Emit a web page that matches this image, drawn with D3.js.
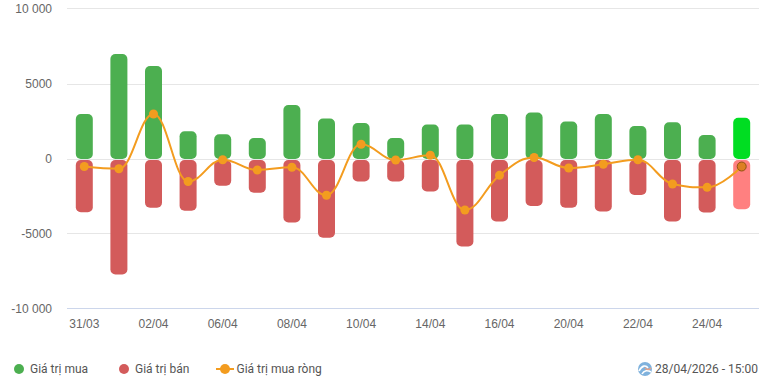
<!DOCTYPE html>
<html>
<head>
<meta charset="utf-8">
<script src="https://cdn.jsdelivr.net/npm/d3@7"></script>
<style>
  html, body { margin: 0; padding: 0; background: #fff; }
  svg { display: block; font-family: Roboto, sans-serif; }
  .tick text { font-size: 12px; fill: #666; }
</style>
</head>
<body>
<svg id="chart"></svg>
<script>
const days = ['31/03', '01/04', '02/04', '03/04', '06/04', '07/04', '08/04', '09/04', '10/04', '13/04',
  '14/04', '15/04', '16/04', '17/04', '20/04', '21/04', '22/04', '23/04', '24/04', '28/04'];
const buyValues = [3000, 7000, 6200, 1850, 1650, 1400, 3600, 2700, 2400, 1400,
  2300, 2300, 3000, 3100, 2500, 3000, 2200, 2450, 1600, 2750];
const sellValues = [-3550, -7700, -3250, -3450, -1780, -2250, -4230, -5250, -1500, -1500,
  -2170, -5830, -4170, -3130, -3250, -3500, -2400, -4170, -3570, -3350];
const netValues = [-500, -650, 3000, -1500, -50, -730, -550, -2420, 980, -70,
  250, -3400, -1090, 100, -600, -350, -50, -1670, -1890, -500];
const yTicks = [10000, 5000, 0, -5000, -10000];
const legendNames = ['Giá trị mua', 'Giá trị bán', 'Giá trị mua ròng'];
const timestamp = '28/04/2026 - 15:00';

const width = 772;
const height = 382;
const margin = { top: 9, right: 13, bottom: 73, left: 67 };

const green = '#4caf50';
const red = '#d35b5b';
const orange = '#f39c1f';
const hoverIndex = days.length - 1; // last day is drawn in the hovered state

const svg = d3.select('svg#chart')
  .attr('width', width)
  .attr('height', height);

const x = d3.scaleBand()
  .domain(days)
  .range([margin.left, width - margin.right]);

const y = d3.scaleLinear()
  .domain([-10000, 10000])
  .range([height - margin.bottom, margin.top]);

const groupThousands = (d) => {
  if (Math.abs(d) < 10000) return String(d);
  return `${d < 0 ? '-' : ''}${Math.abs(d) / 1000} 000`;
};

// same smoothing as a highcharts spline: control points stay between the neighbours
const curveSpline = (context) => {
  const pts = [];
  return {
    lineStart() { pts.length = 0; },
    lineEnd() {
      const smoothing = 1.5;
      const denom = smoothing + 1;
      let prevRight = pts[0];
      pts.forEach((p, i) => {
        if (i === 0) {
          context.moveTo(p[0], p[1]);
          return;
        }
        const last = pts[i - 1];
        const next = pts[i + 1];
        let left = p;
        let right = p;
        if (next) {
          const lx = (smoothing * p[0] + last[0]) / denom;
          const rx = (smoothing * p[0] + next[0]) / denom;
          let ly = (smoothing * p[1] + last[1]) / denom;
          let ry = (smoothing * p[1] + next[1]) / denom;
          const correction = ((ry - ly) * (rx - p[0])) / (rx - lx) + p[1] - ry;
          ly += correction;
          ry += correction;
          if (ly > last[1] && ly > p[1]) {
            ly = Math.max(last[1], p[1]);
            ry = 2 * p[1] - ly;
          } else if (ly < last[1] && ly < p[1]) {
            ly = Math.min(last[1], p[1]);
            ry = 2 * p[1] - ly;
          }
          if (ry > next[1] && ry > p[1]) {
            ry = Math.max(next[1], p[1]);
            ly = 2 * p[1] - ry;
          } else if (ry < next[1] && ry < p[1]) {
            ry = Math.min(next[1], p[1]);
            ly = 2 * p[1] - ry;
          }
          left = [lx, ly];
          right = [rx, ry];
        }
        context.bezierCurveTo(prevRight[0], prevRight[1], left[0], left[1], p[0], p[1]);
        prevRight = right;
      });
    },
    point(px, py) { pts.push([px, py]); },
  };
};

// y axis with the gridlines
svg.append('g')
  .attr('transform', `translate(${margin.left},0)`)
  .call(d3.axisLeft(y)
    .offset(0)
    .tickValues(yTicks)
    .tickSize(-(width - margin.left - margin.right))
    .tickPadding(15)
    .tickFormat(groupThousands))
  .call((g) => g.select('.domain').remove())
  .call((g) => g.selectAll('.tick line')
    .attr('y1', (d) => (d >= 0 && d < 10000 ? 0.5 : -0.5)) // snap to the pixel rows
    .attr('y2', (d) => (d >= 0 && d < 10000 ? 0.5 : -0.5))
    .attr('stroke', (d) => (d === -10000 ? '#ccd6eb' : '#e6e6e6')));

// x axis, every other label
svg.append('g')
  .attr('transform', `translate(0,${height - margin.bottom})`)
  .call(d3.axisBottom(x)
    .offset(0)
    .tickValues(days.filter((d, i) => i % 2 === 0))
    .tickSize(0)
    .tickPadding(10))
  .call((g) => g.select('.domain').remove());

const barWidth = 17;
const barX = (d) => x(d) + (x.bandwidth() - barWidth) / 2;

svg.append('g')
  .selectAll('rect')
  .data(days)
  .join('rect')
  .attr('x', barX)
  .attr('y', (d, i) => y(buyValues[i]))
  .attr('width', barWidth)
  .attr('height', (d, i) => y(0) - y(buyValues[i]))
  .attr('rx', 5)
  .attr('fill', (d, i) => (i === hoverIndex ? '#00dd22' : green));

svg.append('g')
  .selectAll('rect')
  .data(days)
  .join('rect')
  .attr('x', barX)
  .attr('y', y(0) + 1)
  .attr('width', barWidth)
  .attr('height', (d, i) => y(sellValues[i]) - y(0) - 1)
  .attr('rx', 5)
  .attr('fill', (d, i) => (i === hoverIndex ? '#ff8080' : red));

// net value line
const line = d3.line()
  .x((d, i) => x(days[i]) + x.bandwidth() / 2)
  .y((d) => y(d))
  .curve(curveSpline);

svg.append('path')
  .attr('d', line(netValues))
  .attr('fill', 'none')
  .attr('stroke', orange)
  .attr('stroke-width', 2)
  .attr('stroke-linejoin', 'round')
  .attr('stroke-linecap', 'round');

svg.append('g')
  .selectAll('circle')
  .data(netValues)
  .join('circle')
  .attr('cx', (d, i) => x(days[i]) + x.bandwidth() / 2)
  .attr('cy', (d) => y(d))
  .attr('r', 4.5)
  .attr('fill', (d, i) => (i === hoverIndex ? '#dd7f22' : orange))
  .attr('stroke', (d, i) => (i === hoverIndex ? '#8f5212' : 'none'))
  .attr('stroke-width', 1);

// legend
const legendY = 369;
const legend = svg.append('g')
  .attr('font-size', 12)
  .attr('fill', '#555');

legend.append('circle').attr('cx', 19).attr('cy', legendY).attr('r', 5).attr('fill', green);
legend.append('text').attr('x', 30).attr('y', legendY + 4).text(legendNames[0]);

legend.append('circle').attr('cx', 124).attr('cy', legendY).attr('r', 5).attr('fill', red);
legend.append('text').attr('x', 135).attr('y', legendY + 4).text(legendNames[1]);

legend.append('line')
  .attr('x1', 216).attr('x2', 234)
  .attr('y1', legendY).attr('y2', legendY)
  .attr('stroke', orange)
  .attr('stroke-width', 2);
legend.append('circle').attr('cx', 225).attr('cy', legendY).attr('r', 5).attr('fill', orange);
legend.append('text').attr('x', 236.5).attr('y', legendY + 4).text(legendNames[2]);

// update time with the small logo
const logo = svg.append('g').attr('transform', `translate(645,${legendY})`);
logo.append('circle').attr('r', 7).attr('fill', '#7fb2dd');
logo.append('path')
  .attr('d', 'M-6,2 C-3,-4 1,-4 3,-1 M-3,5 C-1,1 3,1 6,3')
  .attr('fill', 'none')
  .attr('stroke', '#fff')
  .attr('stroke-width', 1.6);
logo.append('path')
  .attr('d', 'M0,-1 C2,1 4,1 6,-1')
  .attr('fill', 'none')
  .attr('stroke', '#f0a080')
  .attr('stroke-width', 1.2);

svg.append('text')
  .attr('x', 758)
  .attr('y', legendY + 4)
  .attr('text-anchor', 'end')
  .attr('font-size', 12)
  .attr('fill', '#555')
  .text(timestamp);
</script>
</body>
</html>
